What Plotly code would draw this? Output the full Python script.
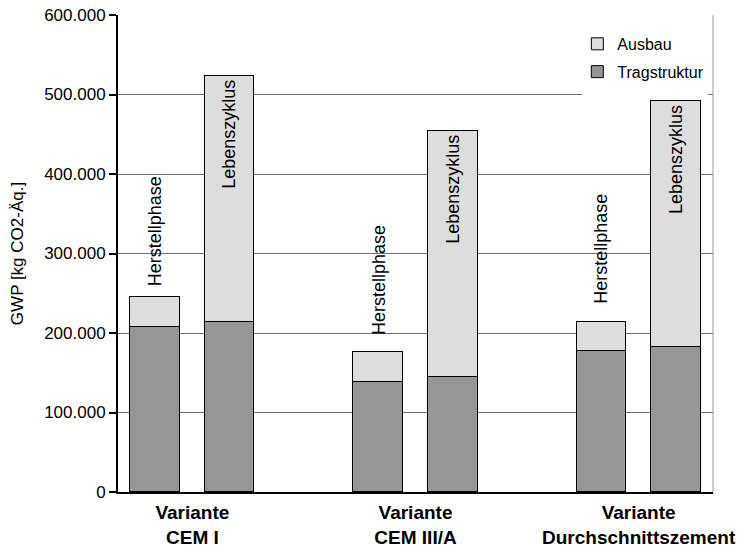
import plotly.graph_objects as go

# ---- data ----
positions = [0, 1, 3, 4, 6, 7]
phase_labels = ["Herstellphase", "Lebenszyklus", "Herstellphase", "Lebenszyklus", "Herstellphase", "Lebenszyklus"]
tragstruktur = [207500, 213800, 138800, 145000, 177400, 182400]
ausbau = [37800, 309800, 37700, 309500, 36000, 309800]
group_positions = [0.5, 3.5, 6.5]
group_labels = ["Variante<br>CEM I", "Variante<br>CEM III/A", "Variante<br>Durchschnittszement"]
y_ticks = [0, 100000, 200000, 300000, 400000, 500000, 600000]

FONT = "Liberation Sans, Arial, sans-serif"

fig = go.Figure()
fig.add_trace(go.Bar(
    x=positions, y=tragstruktur, name="Tragstruktur", width=0.67,
    marker=dict(color="#969696", line=dict(color="black", width=1)),
    legendgroup="t", legendrank=2,
))
fig.add_trace(go.Bar(
    x=positions, y=ausbau, name="Ausbau", width=0.67,
    marker=dict(color="#dddddd", line=dict(color="black", width=1)),
    legendgroup="a", legendrank=1,
))

totals = [t + a for t, a in zip(tragstruktur, ausbau)]
herst_shift = [9, 15, 17]
hi = 0
for p, lab, tot in zip(positions, phase_labels, totals):
    if lab == "Lebenszyklus":
        fig.add_annotation(x=p, y=tot, text=lab, textangle=-90, showarrow=False,
                           yanchor="top", xanchor="center", yshift=-2,
                           font=dict(family=FONT, size=18, color="black"))
    else:
        fig.add_annotation(x=p, y=tot, text=lab, textangle=-90, showarrow=False,
                           yanchor="bottom", xanchor="center", yshift=herst_shift[hi],
                           font=dict(family=FONT, size=18, color="black"))
        hi += 1

# right border of plot area
fig.add_shape(type="line", xref="paper", yref="paper", x0=1, x1=1, y0=0, y1=1,
              line=dict(color="#999999", width=1))
# white legend background reaching down over the gridline
fig.add_shape(type="rect", xref="paper", yref="paper", x0=0.78, x1=0.9916, y0=0.828, y1=0.845,
              line=dict(width=0), fillcolor="white", layer="above")

fig.update_layout(
    width=744, height=554,
    margin=dict(l=118, r=31, t=15, b=62),
    barmode="stack",
    bargap=0,
    separators=",.",
    plot_bgcolor="white", paper_bgcolor="white",
    font=dict(family=FONT, color="black"),
    showlegend=True,
    legend=dict(
        x=0.772, xanchor="left", y=0.975, yanchor="top",
        traceorder="grouped",
        bgcolor="white", font=dict(family=FONT, size=16, color="black"),
        tracegroupgap=4, borderwidth=0,
    ),
    xaxis=dict(
        range=[-0.5, 7.5], tickvals=group_positions,
        ticktext=["<b>" + g.replace("<br>", "</b><br><b>") + "</b>" for g in group_labels],
        tickfont=dict(family=FONT, size=19, color="black"),
        showgrid=False, zeroline=False, showline=True, linecolor="black", linewidth=2,
        ticks="", fixedrange=True, automargin=False, ticklabelstandoff=2,
    ),
    yaxis=dict(
        range=[0, 600000], tickvals=y_ticks, tickformat=",d",
        tickfont=dict(family=FONT, size=17, color="black"),
        showgrid=True, gridcolor="#707070", gridwidth=1,
        zeroline=False, showline=True, linecolor="black", linewidth=2,
        ticks="outside", ticklen=7, tickwidth=2, tickcolor="black", automargin=False,
        title=dict(text="GWP [kg CO2-Äq.]", font=dict(family=FONT, size=17, color="black"), standoff=16),
    ),
)

fig.write_html("out.html")
